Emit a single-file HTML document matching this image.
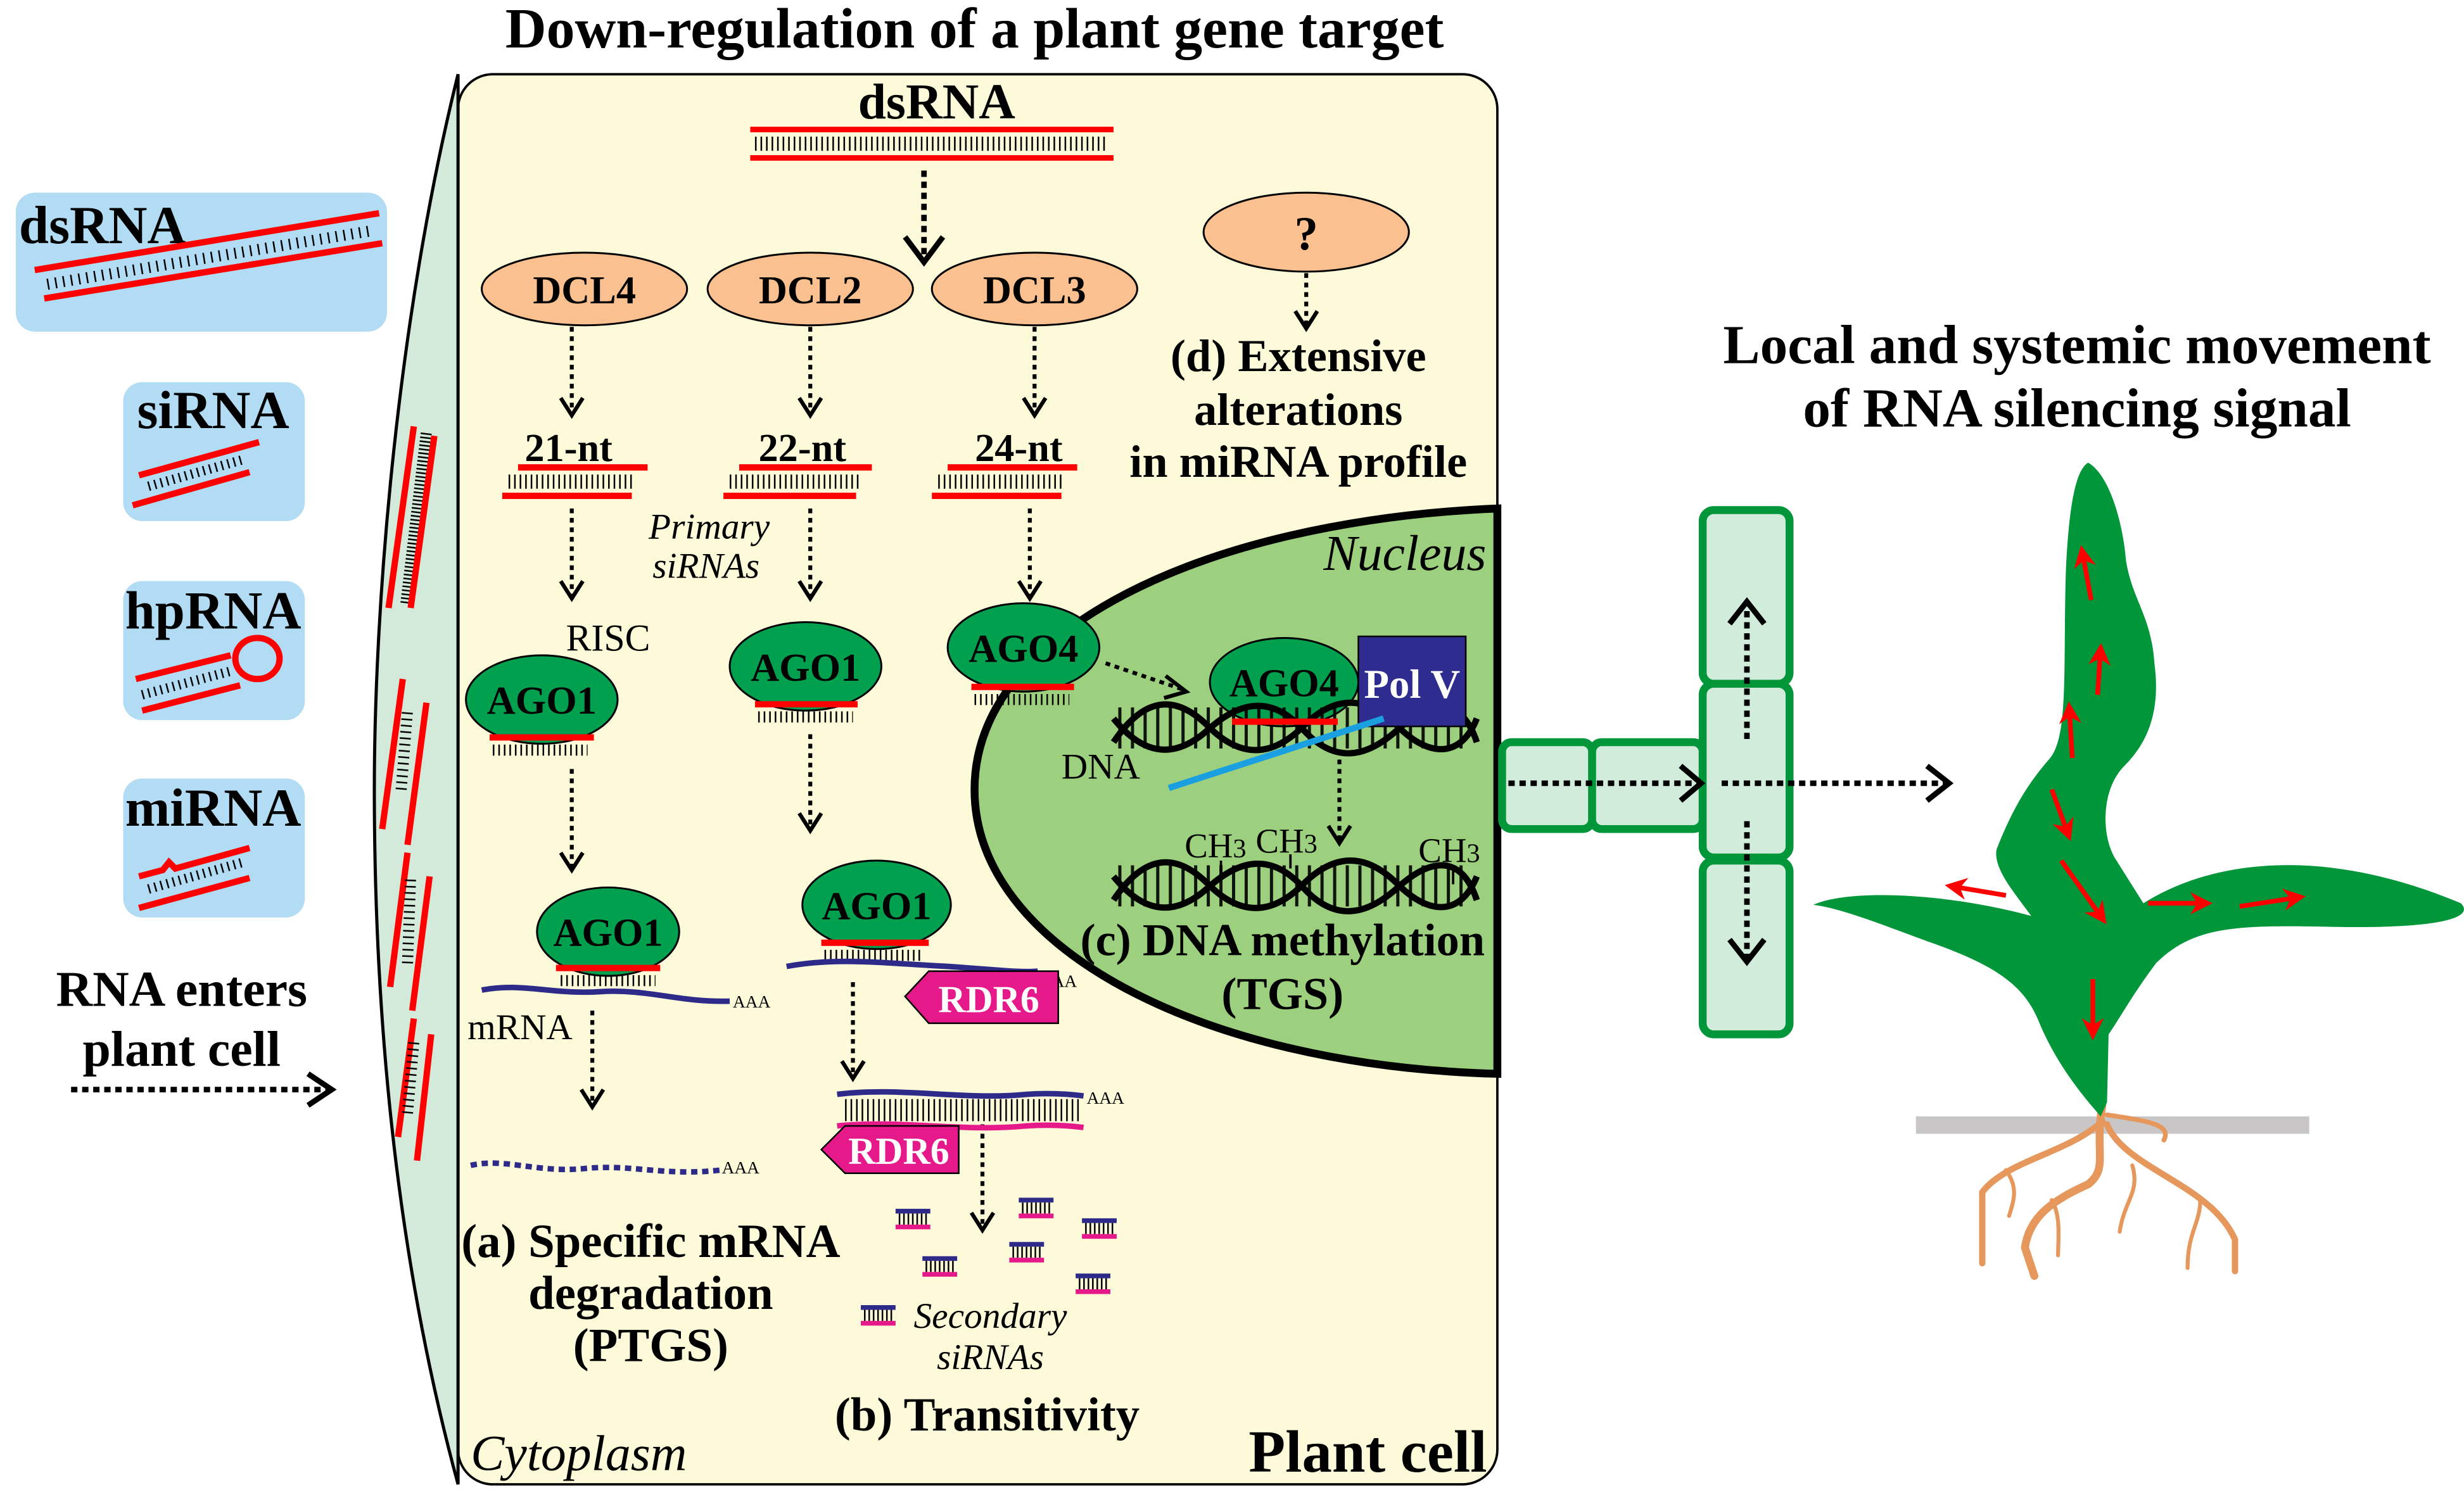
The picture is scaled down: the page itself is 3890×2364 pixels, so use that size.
<!DOCTYPE html>
<html><head><meta charset="utf-8"><style>
html,body{margin:0;padding:0;background:#fff;}
svg{display:block;}
text{font-family:"Liberation Serif",serif;}
.b{font-weight:bold;}
.i{font-style:italic;}
</style></head><body>
<svg width="3890" height="2364" viewBox="0 0 1560 948" xmlns="http://www.w3.org/2000/svg">
<defs>
<marker id="ra" viewBox="0 0 10 10" refX="8" refY="5" markerWidth="14" markerHeight="14" orient="auto" markerUnits="userSpaceOnUse"><path d="M0,0 L10,5 L0,10 L3,5 Z" fill="red"/></marker>
</defs>
<rect width="1560" height="948" fill="#fff"/>

<text x="617" y="30" font-size="36" class="b" text-anchor="middle">Down-regulation of a plant gene target</text>

<rect x="290" y="47" width="658" height="893" rx="22" fill="#fdfad9" stroke="#000" stroke-width="1.5"/>
<path d="M290,47 C252,200 237,380 237,500 C237,650 252,800 290,940 Z" fill="#d3eadb" stroke="#000" stroke-width="2"/>
<g>
 <line x1="246" y1="385" x2="262" y2="270" stroke="red" stroke-width="4"/>
 <line x1="257" y1="382" x2="270" y2="273" stroke="#000" stroke-width="7" stroke-dasharray="1 1.5"/>
 <line x1="260" y1="385" x2="275" y2="276" stroke="red" stroke-width="4"/>
 <line x1="242" y1="525" x2="255" y2="430" stroke="red" stroke-width="4"/>
 <line x1="254" y1="500" x2="258" y2="450" stroke="#000" stroke-width="7" stroke-dasharray="1 3"/>
 <line x1="258" y1="535" x2="270" y2="445" stroke="red" stroke-width="4"/>
 <line x1="247" y1="625" x2="258" y2="540" stroke="red" stroke-width="4"/>
 <line x1="258" y1="610" x2="260" y2="555" stroke="#000" stroke-width="7" stroke-dasharray="1 3"/>
 <line x1="261" y1="640" x2="272" y2="555" stroke="red" stroke-width="4"/>
 <line x1="252" y1="720" x2="262" y2="645" stroke="red" stroke-width="4"/>
 <line x1="258" y1="705" x2="262" y2="660" stroke="#000" stroke-width="7" stroke-dasharray="1 3"/>
 <line x1="264" y1="735" x2="273" y2="655" stroke="red" stroke-width="4"/>
</g>

<rect x="10" y="122" width="235" height="88" rx="12" fill="#b1dcf4"/>
<text x="12" y="154" font-size="34" class="b">dsRNA</text>
<line x1="22" y1="171" x2="240" y2="135" stroke="red" stroke-width="4"/>
<line x1="30" y1="180" x2="236" y2="146" stroke="#000" stroke-width="7" stroke-dasharray="1 4"/>
<line x1="28" y1="189" x2="242" y2="154" stroke="red" stroke-width="4"/>

<rect x="78" y="242" width="115" height="88" rx="12" fill="#b1dcf4"/>
<text x="135" y="271" font-size="34" class="b" text-anchor="middle">siRNA</text>
<line x1="88" y1="301" x2="164" y2="280" stroke="red" stroke-width="4"/>
<line x1="94" y1="308" x2="154" y2="291" stroke="#000" stroke-width="6" stroke-dasharray="1 3"/>
<line x1="84" y1="320" x2="158" y2="299" stroke="red" stroke-width="4"/>

<rect x="78" y="368" width="115" height="88" rx="12" fill="#b1dcf4"/>
<text x="135" y="398" font-size="34" class="b" text-anchor="middle">hpRNA</text>
<line x1="86" y1="430" x2="146" y2="415" stroke="red" stroke-width="4"/>
<line x1="90" y1="440" x2="146" y2="425" stroke="#000" stroke-width="6" stroke-dasharray="1 3"/>
<line x1="90" y1="450" x2="152" y2="434" stroke="red" stroke-width="4"/>
<ellipse cx="163" cy="417" rx="14" ry="13" fill="none" stroke="red" stroke-width="4"/>

<rect x="78" y="493" width="115" height="88" rx="12" fill="#b1dcf4"/>
<text x="135" y="523" font-size="34" class="b" text-anchor="middle">miRNA</text>
<polyline points="88,555 103,551 107,546 111,550 158,537" fill="none" stroke="red" stroke-width="4"/>
<line x1="94" y1="563" x2="154" y2="546" stroke="#000" stroke-width="6" stroke-dasharray="1 3"/>
<line x1="88" y1="575" x2="158" y2="556" stroke="red" stroke-width="4"/>

<text x="115" y="637" font-size="32" class="b" text-anchor="middle">RNA enters</text>
<text x="115" y="675" font-size="32" class="b" text-anchor="middle">plant cell</text>
<line x1="45" y1="690" x2="208" y2="690" stroke="#000" stroke-width="3.5" stroke-dasharray="4 3"/>
<polyline points="195,680 210,690 195,700" fill="none" stroke="#000" stroke-width="3.5"/>

<text x="593" y="75" font-size="32" class="b" text-anchor="middle">dsRNA</text>
<line x1="475" y1="82" x2="705" y2="82" stroke="red" stroke-width="3.5"/>
<line x1="478" y1="91" x2="700" y2="91" stroke="#000" stroke-width="9" stroke-dasharray="1 2.5"/>
<line x1="475" y1="100" x2="705" y2="100" stroke="red" stroke-width="3.5"/>
<line x1="585" y1="108" x2="585" y2="163" stroke="#000" stroke-width="3.5" stroke-dasharray="4 3"/>
<polyline points="573,150 585,166 597,150" fill="none" stroke="#000" stroke-width="3.5"/>

<!-- Nucleus (drawn before proteins) -->
<path d="M948,322 C760,330 617,400 617,500 C617,600 760,675 948,680 Z" fill="#9dd07e" stroke="#000" stroke-width="5"/>
<text x="941" y="361" font-size="32" class="i" text-anchor="end">Nucleus</text>

<g fill="#fbc08f" stroke="#000" stroke-width="1.2">
<ellipse cx="370" cy="183" rx="65" ry="23"/>
<ellipse cx="513" cy="183" rx="65" ry="23"/>
<ellipse cx="655" cy="183" rx="65" ry="23"/>
<ellipse cx="827" cy="147" rx="65" ry="25"/>
</g>
<g font-size="25" class="b" text-anchor="middle">
<text x="370" y="192">DCL4</text>
<text x="513" y="192">DCL2</text>
<text x="655" y="192">DCL3</text>
<text x="827" y="158" font-size="30">?</text>
</g>

<g stroke="#000" stroke-width="2.5" fill="none">
<line x1="362" y1="207" x2="362" y2="262" stroke-dasharray="3 3"/><polyline points="355,252 362,263 369,252"/>
<line x1="513" y1="207" x2="513" y2="262" stroke-dasharray="3 3"/><polyline points="506,252 513,263 520,252"/>
<line x1="655" y1="207" x2="655" y2="262" stroke-dasharray="3 3"/><polyline points="648,252 655,263 662,252"/>
<line x1="827" y1="173" x2="827" y2="207" stroke-dasharray="3 3"/><polyline points="820,197 827,208 834,197"/>
<line x1="362" y1="322" x2="362" y2="378" stroke-dasharray="3 3"/><polyline points="355,368 362,379 369,368"/>
<line x1="513" y1="322" x2="513" y2="378" stroke-dasharray="3 3"/><polyline points="506,368 513,379 520,368"/>
<line x1="652" y1="322" x2="652" y2="378" stroke-dasharray="3 3"/><polyline points="645,368 652,379 659,368"/>
<line x1="362" y1="487" x2="362" y2="550" stroke-dasharray="3 3"/><polyline points="355,540 362,551 369,540"/>
<line x1="513" y1="465" x2="513" y2="525" stroke-dasharray="3 3"/><polyline points="506,515 513,526 520,515"/>
<line x1="375" y1="640" x2="375" y2="700" stroke-dasharray="3 3"/><polyline points="368,690 375,701 382,690"/>
<line x1="540" y1="622" x2="540" y2="682" stroke-dasharray="3 3"/><polyline points="533,672 540,683 547,672"/>
<line x1="622" y1="712" x2="622" y2="778" stroke-dasharray="3 3"/><polyline points="615,768 622,779 629,768"/>
<line x1="700" y1="420" x2="750" y2="437" stroke-dasharray="3 3"/><polyline points="738,428 751,438 737,442"/>
<line x1="848" y1="475" x2="848" y2="533" stroke-dasharray="3 3"/><polyline points="841,523 848,534 855,523"/>
</g>

<g font-size="25" class="b" text-anchor="middle">
<text x="360" y="292">21-nt</text><text x="508" y="292">22-nt</text><text x="645" y="292">24-nt</text>
</g>
<g>
<line x1="328" y1="296" x2="410" y2="296" stroke="red" stroke-width="4"/>
<line x1="322" y1="305" x2="402" y2="305" stroke="#000" stroke-width="9" stroke-dasharray="1 2.5"/>
<line x1="318" y1="314" x2="400" y2="314" stroke="red" stroke-width="4"/>
<line x1="468" y1="296" x2="552" y2="296" stroke="red" stroke-width="4"/>
<line x1="462" y1="305" x2="544" y2="305" stroke="#000" stroke-width="9" stroke-dasharray="1 2.5"/>
<line x1="458" y1="314" x2="542" y2="314" stroke="red" stroke-width="4"/>
<line x1="600" y1="296" x2="682" y2="296" stroke="red" stroke-width="4"/>
<line x1="594" y1="305" x2="674" y2="305" stroke="#000" stroke-width="9" stroke-dasharray="1 2.5"/>
<line x1="590" y1="314" x2="672" y2="314" stroke="red" stroke-width="4"/>
</g>
<text x="449" y="341" font-size="23" class="i" text-anchor="middle">Primary</text>
<text x="447" y="366" font-size="23" class="i" text-anchor="middle">siRNAs</text>
<text x="385" y="412" font-size="24" text-anchor="middle">RISC</text>

<g fill="#00a04f" stroke="#000" stroke-width="1.2">
<ellipse cx="343" cy="443" rx="48" ry="28"/>
<ellipse cx="510" cy="422" rx="48" ry="28"/>
<ellipse cx="648" cy="410" rx="48" ry="28"/>
<ellipse cx="385" cy="590" rx="45" ry="28"/>
<ellipse cx="555" cy="573" rx="47" ry="28"/>
<ellipse cx="813" cy="432" rx="47" ry="28"/>
</g>
<g font-size="25" class="b" text-anchor="middle">
<text x="343" y="452">AGO1</text><text x="510" y="431">AGO1</text><text x="648" y="419">AGO4</text>
<text x="385" y="599">AGO1</text><text x="555" y="582">AGO1</text><text x="813" y="441">AGO4</text>
</g>
<g stroke-width="4" stroke="red">
<line x1="310" y1="467" x2="376" y2="467"/><line x1="478" y1="446" x2="543" y2="446"/>
<line x1="615" y1="435" x2="680" y2="435"/><line x1="352" y1="613" x2="418" y2="613"/>
<line x1="520" y1="597" x2="588" y2="597"/>
</g>
<g stroke="#000" stroke-width="7" stroke-dasharray="1 2.5">
<line x1="312" y1="475" x2="372" y2="475"/><line x1="480" y1="454" x2="540" y2="454"/>
<line x1="617" y1="443" x2="677" y2="443"/><line x1="355" y1="621" x2="415" y2="621"/>
<line x1="522" y1="605" x2="584" y2="605"/>
</g>

<path d="M305,627 C330,622 350,630 380,628 C410,626 430,635 462,634" fill="none" stroke="#2e2a8a" stroke-width="3.5"/>
<text x="464" y="638" font-size="11">AAA</text>
<text x="296" y="658" font-size="23">mRNA</text>
<path d="M298,738 C320,733 340,743 370,740 C400,737 420,745 456,741" fill="none" stroke="#2e2a8a" stroke-width="3.5" stroke-dasharray="4 3"/>
<text x="457" y="743" font-size="11">AAA</text>
<g font-size="30" class="b" text-anchor="middle">
<text x="412" y="796">(a) Specific mRNA</text><text x="412" y="829">degradation</text><text x="412" y="862">(PTGS)</text>
</g>

<path d="M498,612 C530,606 560,610 600,612 C630,614 645,616 657,615" fill="none" stroke="#2e2a8a" stroke-width="3.5"/>
<text x="658" y="625" font-size="11">AAA</text>
<polygon points="588,615 670,615 670,648 588,648 573,631" fill="#e6198a" stroke="#000" stroke-width="1"/>
<text x="626" y="641" font-size="24" class="b" fill="#fff" text-anchor="middle">RDR6</text>
<path d="M530,693 C570,688 610,697 650,693 C665,692 678,693 686,694" fill="none" stroke="#2e2a8a" stroke-width="3.5"/>
<line x1="535" y1="703" x2="684" y2="703" stroke="#000" stroke-width="14" stroke-dasharray="1 2.5"/>
<path d="M530,713 C570,709 610,717 650,713 C665,712 678,713 686,714" fill="none" stroke="#e6198a" stroke-width="3.5"/>
<text x="688" y="699" font-size="11">AAA</text>
<polygon points="535,713 607,713 607,743 535,743 520,728" fill="#e6198a" stroke="#000" stroke-width="1"/>
<text x="569" y="737" font-size="24" class="b" fill="#fff" text-anchor="middle">RDR6</text>
<g>
<g transform="translate(567,767)"><line x1="0" y1="0" x2="22" y2="0" stroke="#2e2a8a" stroke-width="3"/><line x1="2" y1="5" x2="20" y2="5" stroke="#000" stroke-width="7" stroke-dasharray="1 1.8"/><line x1="0" y1="10" x2="22" y2="10" stroke="#e6198a" stroke-width="3"/></g>
<g transform="translate(645,760)"><line x1="0" y1="0" x2="22" y2="0" stroke="#2e2a8a" stroke-width="3"/><line x1="2" y1="5" x2="20" y2="5" stroke="#000" stroke-width="7" stroke-dasharray="1 1.8"/><line x1="0" y1="10" x2="22" y2="10" stroke="#e6198a" stroke-width="3"/></g>
<g transform="translate(685,773)"><line x1="0" y1="0" x2="22" y2="0" stroke="#2e2a8a" stroke-width="3"/><line x1="2" y1="5" x2="20" y2="5" stroke="#000" stroke-width="7" stroke-dasharray="1 1.8"/><line x1="0" y1="10" x2="22" y2="10" stroke="#e6198a" stroke-width="3"/></g>
<g transform="translate(584,797)"><line x1="0" y1="0" x2="22" y2="0" stroke="#2e2a8a" stroke-width="3"/><line x1="2" y1="5" x2="20" y2="5" stroke="#000" stroke-width="7" stroke-dasharray="1 1.8"/><line x1="0" y1="10" x2="22" y2="10" stroke="#e6198a" stroke-width="3"/></g>
<g transform="translate(639,788)"><line x1="0" y1="0" x2="22" y2="0" stroke="#2e2a8a" stroke-width="3"/><line x1="2" y1="5" x2="20" y2="5" stroke="#000" stroke-width="7" stroke-dasharray="1 1.8"/><line x1="0" y1="10" x2="22" y2="10" stroke="#e6198a" stroke-width="3"/></g>
<g transform="translate(681,808)"><line x1="0" y1="0" x2="22" y2="0" stroke="#2e2a8a" stroke-width="3"/><line x1="2" y1="5" x2="20" y2="5" stroke="#000" stroke-width="7" stroke-dasharray="1 1.8"/><line x1="0" y1="10" x2="22" y2="10" stroke="#e6198a" stroke-width="3"/></g>
<g transform="translate(545,828)"><line x1="0" y1="0" x2="22" y2="0" stroke="#2e2a8a" stroke-width="3"/><line x1="2" y1="5" x2="20" y2="5" stroke="#000" stroke-width="7" stroke-dasharray="1 1.8"/><line x1="0" y1="10" x2="22" y2="10" stroke="#e6198a" stroke-width="3"/></g>
</g>
<text x="627" y="841" font-size="23" class="i" text-anchor="middle">Secondary</text>
<text x="627" y="867" font-size="23" class="i" text-anchor="middle">siRNAs</text>
<text x="625" y="906" font-size="30" class="b" text-anchor="middle">(b) Transitivity</text>

<text x="298" y="931" font-size="32" class="i">Cytoplasm</text>
<text x="866" y="932" font-size="38" class="b" text-anchor="middle">Plant cell</text>

<g font-size="29" class="b" text-anchor="middle">
<text x="822" y="235">(d) Extensive</text><text x="822" y="269">alterations</text><text x="822" y="302">in miRNA profile</text>
</g>

<!-- DNA helix 1 -->
<g fill="none" stroke="#000">
<line x1="708" y1="461" x2="932" y2="461" stroke-width="26" stroke-dasharray="2 6" opacity="0.9"/>
<path d="M705,470 C725,440 745,440 765,460 S805,480 825,460 S865,440 885,460 S925,480 935,455" stroke-width="4"/>
<path d="M705,455 C725,480 745,480 765,462 S805,440 825,462 S865,480 885,462 S925,440 935,470" stroke-width="4"/>
</g>
<line x1="780" y1="457" x2="847" y2="457" stroke="red" stroke-width="4"/>
<rect x="860" y="403" width="68" height="57" fill="#2e2d8f" stroke="#000" stroke-width="1"/>
<text x="894" y="442" font-size="26" class="b" fill="#fff" text-anchor="middle">Pol V</text>
<line x1="740" y1="499" x2="876" y2="455" stroke="#1aa0e0" stroke-width="4"/>
<text x="672" y="493" font-size="23">DNA</text>

<g fill="none" stroke="#000">
<line x1="708" y1="561" x2="932" y2="561" stroke-width="26" stroke-dasharray="2 6" opacity="0.9"/>
<path d="M705,570 C725,540 745,540 765,560 S805,580 825,560 S865,540 885,560 S925,580 935,555" stroke-width="4"/>
<path d="M705,555 C725,580 745,580 765,562 S805,540 825,562 S865,580 885,562 S925,540 935,570" stroke-width="4"/>
<line x1="773" y1="545" x2="773" y2="555" stroke-width="1.5"/><line x1="817" y1="541" x2="817" y2="550" stroke-width="1.5"/><line x1="920" y1="550" x2="920" y2="560" stroke-width="1.5"/>
</g>
<g font-size="22"><text x="750" y="543">CH<tspan font-size="17">3</tspan></text><text x="795" y="540">CH<tspan font-size="17">3</tspan></text><text x="898" y="546">CH<tspan font-size="17">3</tspan></text></g>
<g font-size="29" class="b" text-anchor="middle"><text x="812" y="605">(c) DNA methylation</text><text x="812" y="639">(TGS)</text></g>

<g fill="#d2ecdc" stroke="#009639" stroke-width="5">
<rect x="951" y="470" width="57" height="55" rx="6"/>
<rect x="1008" y="470" width="70" height="55" rx="6"/>
<rect x="1078" y="323" width="55" height="110" rx="7"/>
<rect x="1078" y="433" width="55" height="110" rx="7"/>
<rect x="1078" y="545" width="55" height="110" rx="7"/>
</g>
<g stroke="#000" stroke-width="3.5" fill="none">
<line x1="955" y1="496" x2="1075" y2="496" stroke-dasharray="4 3"/><polyline points="1064,485 1077,496 1064,507"/>
<line x1="1090" y1="496" x2="1233" y2="496" stroke-dasharray="4 3"/><polyline points="1220,485 1234,496 1220,507"/>
<line x1="1106" y1="468" x2="1106" y2="382" stroke-dasharray="4 3"/><polyline points="1095,395 1106,381 1117,395"/>
<line x1="1106" y1="520" x2="1106" y2="608" stroke-dasharray="4 3"/><polyline points="1095,595 1106,609 1117,595"/>
</g>
<text x="1315" y="230" font-size="35" class="b" text-anchor="middle">Local and systemic movement</text>
<text x="1315" y="270" font-size="35" class="b" text-anchor="middle">of RNA silencing signal</text>

<!-- Plant -->
<rect x="1213" y="707" width="249" height="11" fill="#c8c6c6"/>
<g fill="none" stroke="#e6975c" stroke-linecap="round">
<path d="M1331,700 C1326,730 1335,740 1322,750 C1300,760 1285,770 1282,790 L1288,808" stroke-width="5"/>
<path d="M1331,710 C1310,730 1270,735 1255,755 L1255,800" stroke-width="4"/>
<path d="M1334,712 C1345,740 1400,750 1415,785 L1415,805" stroke-width="4"/>
<path d="M1334,706 C1360,710 1375,712 1370,722" stroke-width="3"/>
<path d="M1270,741 C1278,752 1275,760 1272,770" stroke-width="2.5"/>
<path d="M1299,760 C1305,770 1303,785 1303,795" stroke-width="2.5"/>
<path d="M1350,738 C1355,755 1345,760 1342,780" stroke-width="2.5"/>
<path d="M1393,760 C1393,775 1385,780 1385,803" stroke-width="2.5"/>
</g>
<path d="M1322,293 C1335,300 1344,330 1346,355 C1350,380 1362,390 1364,420 C1368,450 1360,470 1345,485 C1330,500 1330,530 1340,545 L1357,572 C1400,545 1470,535 1558,572 C1568,582 1540,588 1480,587 C1420,586 1390,585 1365,610 C1350,630 1342,645 1335,655 L1334,698 L1330,707 C1315,690 1300,670 1290,645 C1280,622 1260,610 1220,596 C1190,585 1165,575 1148,573 C1170,563 1230,565 1286,580 C1275,565 1262,550 1264,538 C1275,510 1285,495 1298,480 C1310,465 1306,420 1308,360 C1310,320 1314,298 1322,293 Z" fill="#009639"/>
<g stroke="red" stroke-width="3" fill="none" marker-end="url(#ra)">
<line x1="1324" y1="380" x2="1318" y2="348"/>
<line x1="1328" y1="440" x2="1330" y2="410"/>
<line x1="1312" y1="480" x2="1310" y2="447"/>
<line x1="1299" y1="500" x2="1310" y2="530"/>
<line x1="1305" y1="545" x2="1332" y2="583"/>
<line x1="1325" y1="620" x2="1325" y2="656"/>
<line x1="1270" y1="567" x2="1234" y2="561"/>
<line x1="1360" y1="572" x2="1398" y2="572"/>
<line x1="1418" y1="574" x2="1457" y2="568"/>
</g>
</svg>
</body></html>
